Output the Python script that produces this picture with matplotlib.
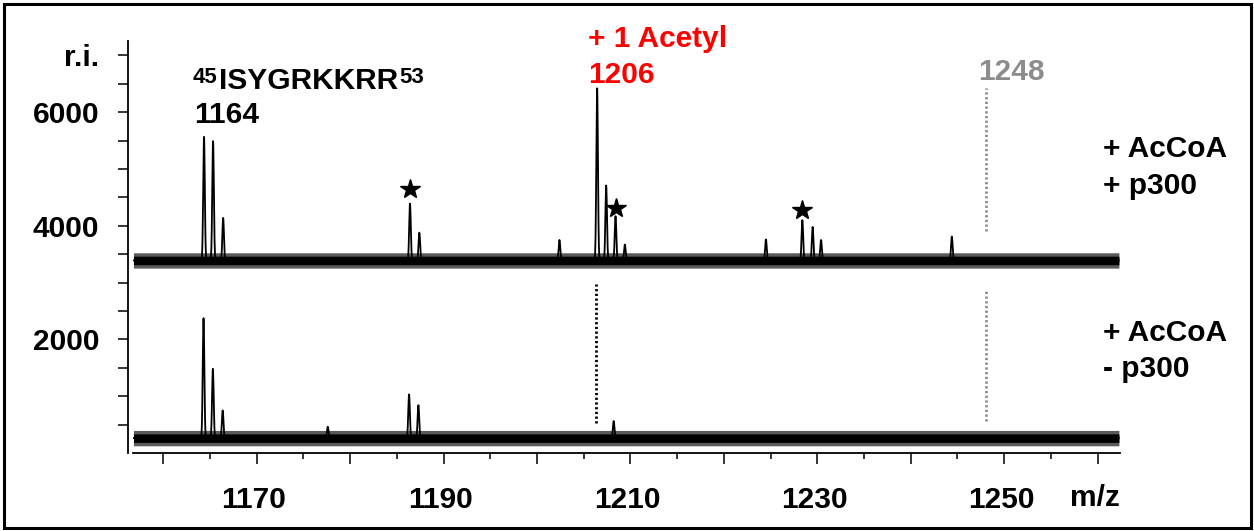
import numpy as np
import matplotlib
matplotlib.use("Agg")
import matplotlib.pyplot as plt
from matplotlib.patches import Rectangle
from matplotlib.transforms import ScaledTranslation

# ---------------- data ----------------
# upper trace: + AcCoA + p300  (peak m/z, height above baseline)
upper_mz = [1164.35, 1165.32, 1166.4, 1186.4, 1187.4, 1202.4, 1206.43, 1207.4,
            1208.4, 1209.4, 1224.5, 1228.4, 1229.5, 1230.4, 1244.4]
upper_h = [2190, 2100, 750, 1000, 490, 360, 3050, 1320,
           780, 280, 370, 710, 590, 360, 420]
upper_baseline = 3390

# lower trace: + AcCoA - p300
lower_mz = [1164.3, 1165.3, 1166.35, 1177.6, 1186.3, 1187.3, 1208.2]
lower_h = [2110, 1220, 490, 200, 770, 580, 300]
lower_baseline = 262

noise_core = 75        # half height of the dense baseline noise
noise_fringe = 135     # half height of the ragged noise edge

# starred peaks (m/z, marker height)
star_mz = [1186.4, 1208.4, 1228.4]
star_y = [4640, 4320, 4280]

# dotted marker lines: (m/z, y from, y to, colour)
dotted_lines = [(1248.1, 3908, 6420, "#8c8c8c"),
                (1248.1, 569, 2857, "#8c8c8c"),
                (1206.3, 523, 2975, "black")]

x_labels = [1170, 1190, 1210, 1230, 1250]
y_labels = {2000: "2000", 4000: "4000", 6000: "6000", 7000: "r.i."}

# ---------------- figure ----------------
W, H = 1254, 531
fig = plt.figure(figsize=(W / 100, H / 100), dpi=100)
FONT = "Liberation Sans"
FS = 21.5
plt.rcParams["font.family"] = [FONT, "DejaVu Sans"]
plt.rcParams["font.weight"] = "bold"

ax = fig.add_axes([133 / W, 1 - 453 / H, (1120 - 133) / W, (453 - 41.2) / H])
ax.set_xlim(1156.75, 1262.4)
ax.set_ylim(0, 7250)

mz = np.arange(1156.8, 1262.3, 0.02)
sigma = 0.085


def trace(centers, heights, base):
    y = np.full_like(mz, float(base))
    for c, h in zip(centers, heights):
        y += h * np.exp(-0.5 * ((mz - c) / sigma) ** 2)
    return y


for cs, hs, base in [(upper_mz, upper_h, upper_baseline),
                     (lower_mz, lower_h, lower_baseline)]:
    ax.fill_between(mz, base - noise_fringe, base + noise_fringe,
                    color="#5a5a5a", lw=0, zorder=2)
    ax.fill_between(mz, base - noise_core, base + noise_core,
                    color="black", lw=0, zorder=2)
    ax.plot(mz, trace(cs, hs, base), color="black", lw=1.3, zorder=3)

ax.plot(star_mz, star_y, ls="none", marker="*", ms=15, color="black", zorder=4)

for m, y0, y1, col in dotted_lines:
    ax.plot([m, m], [y0, y1], color=col, lw=2.0, ls=(0, (0.8, 0.9)), zorder=3)

# spines
for s in ["top", "right"]:
    ax.spines[s].set_visible(False)
ax.spines["left"].set_position(("outward", 3.6))
ax.spines["left"].set_bounds(0, 7250)
ax.spines["left"].set_linewidth(1.3)
ax.spines["bottom"].set_linewidth(1.3)

# ticks
ax.set_yticks(np.arange(500, 7001, 500), minor=True)
ax.set_yticks(list(y_labels.keys()))
ax.set_yticklabels(list(y_labels.values()))
ax.tick_params(axis="y", which="both", length=7.2, width=1.1, direction="out",
               pad=13.5, labelsize=FS)
ax.set_xticks(np.arange(1160, 1261, 10))
ax.set_xticks(np.arange(1165, 1261, 10), minor=True)
ax.set_xticklabels([str(v) if v in x_labels else "" for v in range(1160, 1261, 10)])
ax.tick_params(axis="x", which="major", length=8, width=1.1, pad=16, labelsize=FS)
ax.tick_params(axis="x", which="minor", length=4, width=1.1)
for lab in ax.get_xticklabels() + ax.get_yticklabels():
    lab.set_fontweight("bold")
for lab in ax.get_xticklabels():
    lab.set_transform(lab.get_transform() + ScaledTranslation(-3 / 100, 0, fig.dpi_scale_trans))


def ftext(x, y, s, **kw):
    kw.setdefault("fontsize", FS)
    kw.setdefault("fontweight", "bold")
    kw.setdefault("va", "baseline")
    kw.setdefault("ha", "left")
    return fig.text(x / W, 1 - y / H, s, **kw)


ftext(1095, 498, "m/z", va="center", ha="center")

# peptide label with superscripts, measured to keep them adjacent
fig.canvas.draw()
r = fig.canvas.get_renderer()
t1 = ftext(193, 83, "45", fontsize=16)
x1 = t1.get_window_extent(r).x1
t2 = fig.text(x1 / W + 1 / W, 1 - 89 / H, "ISYGRKKRR", fontsize=FS, fontweight="bold",
              va="baseline", ha="left")
x2 = t2.get_window_extent(r).x1
fig.text(x2 / W + 1 / W, 1 - 83 / H, "53", fontsize=16, fontweight="bold",
         va="baseline", ha="left")

ftext(194, 123, "1164")
ftext(588, 47, "+ 1 Acetyl", color="#ff0000")
ftext(588, 83, "1206", color="#ff0000")
ftext(978, 80, "1248", color="#8c8c8c")
ftext(1103, 157, "+ AcCoA")
ftext(1103, 194, "+ p300")
ftext(1103, 341, "+ AcCoA")
ftext(1103, 377, "- p300")

fig.patches.append(Rectangle((3.5 / W, 3 / H), (1250.5 - 3.5) / W, (527.5 - 3) / H,
                             transform=fig.transFigure, fill=False,
                             edgecolor="black", lw=2.2))

fig.savefig("out.png", dpi=100)
